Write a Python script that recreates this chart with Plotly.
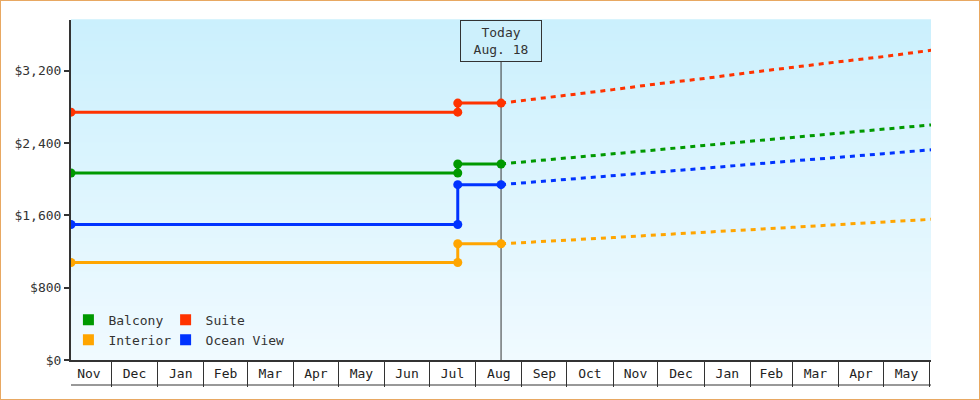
# %% Cabin price history and forecast

import plotly.graph_objects as go


# %% Data

cabins = ["Balcony", "Suite", "Interior", "Ocean View"]
colors = {
    "Balcony": "#009900",
    "Suite": "#ff3300",
    "Interior": "#ffa500",
    "Ocean View": "#0033ff",
}

# price history: start, last day of old price, price change, today
history_dates = ["2019-11-04", "2020-07-20", "2020-07-20", "2020-08-18"]
history_prices = {
    "Balcony": [2068, 2068, 2168, 2168],
    "Suite": [2741, 2741, 2841, 2841],
    "Interior": [1078, 1078, 1285, 1285],
    "Ocean View": [1498, 1498, 1939, 1939],
}

# forecast from today to the end of the range
forecast_dates = [
    "2020-08-18", "2020-09-01", "2020-10-01", "2020-11-01", "2020-12-01",
    "2021-01-01", "2021-02-01", "2021-03-01", "2021-04-01", "2021-05-01",
    "2021-06-02",
]
forecast_prices = {
    "Balcony": [2168, 2190, 2233, 2282, 2325, 2373, 2418, 2462, 2507, 2554, 2600],
    "Suite": [2841, 2868, 2931, 2990, 3055, 3113, 3180, 3232, 3298, 3355, 3425],
    "Interior": [1285, 1297, 1327, 1354, 1384, 1411, 1443, 1467, 1498, 1524, 1556],
    "Ocean View": [1939, 1957, 1999, 2038, 2081, 2120, 2164, 2199, 2243, 2281, 2325],
}

today = "2020-08-18"
today_label = "Today<br>Aug. 18"
x_range = ["2019-11-04", "2021-06-01 22:00"]
y_range = [0, 3760]


# %% Figure

font_family = "DejaVu Sans Mono"
ink = "#333333"
width, height = 980, 400
margin = {"l": 71, "r": 49, "t": 20, "b": 40}
plot_w = width - margin["l"] - margin["r"]
plot_h = height - margin["t"] - margin["b"]

fig = go.Figure()

# soft vertical gradient behind the plot
bands = 50
top_rgb = (203, 240, 253)
bottom_rgb = (240, 250, 255)
for i in range(bands):
    f = i / (bands - 1)
    r = round(bottom_rgb[0] + (top_rgb[0] - bottom_rgb[0]) * f)
    g = round(bottom_rgb[1] + (top_rgb[1] - bottom_rgb[1]) * f)
    b = round(bottom_rgb[2] + (top_rgb[2] - bottom_rgb[2]) * f)
    fig.add_shape(
        type="rect", xref="x domain", yref="y domain",
        x0=0, x1=1, y0=i / bands, y1=(i + 1) / bands + 0.002,
        fillcolor=f"rgb({r},{g},{b})", line_width=0, layer="below",
    )

# today marker line
fig.add_shape(
    type="line", xref="x", yref="y domain",
    x0=today, x1=today, y0=0, y1=1,
    line={"color": ink, "width": 1}, layer="below",
)

# bottom edge of month boxes
fig.add_shape(
    type="line", xref="x domain", yref="y domain",
    x0=0, x1=1, y0=-25 / plot_h, y1=-25 / plot_h,
    line={"color": ink, "width": 1},
)

# outer frame
fig.add_shape(
    type="rect", xref="paper", yref="paper",
    x0=-margin["l"] / plot_w, x1=(width - margin["l"]) / plot_w,
    y0=-margin["b"] / plot_h, y1=(height - margin["b"]) / plot_h,
    line={"color": "#e8a862", "width": 2},
)

for cabin in ["Interior", "Ocean View", "Balcony", "Suite"]:
    fig.add_trace(go.Scatter(
        x=forecast_dates, y=forecast_prices[cabin], mode="lines",
        line={"color": colors[cabin], "width": 3, "dash": "5px,5px"},
        showlegend=False, hoverinfo="skip",
    ))
    fig.add_trace(go.Scatter(
        x=history_dates, y=history_prices[cabin], mode="lines+markers",
        line={"color": colors[cabin], "width": 3},
        marker={"size": 9, "color": colors[cabin]},
        showlegend=False, name=cabin,
    ))

# square legend entries, two columns
for cabin in cabins:
    fig.add_trace(go.Scatter(
        x=[None], y=[None], mode="markers", name=cabin,
        marker={"symbol": "square", "size": 11, "color": colors[cabin]},
        legend="legend" if cabin in ("Balcony", "Interior") else "legend2",
    ))

fig.add_annotation(
    x=today, xref="x", y=1, yref="paper", yanchor="top",
    text=today_label, showarrow=False, width=74, height=34,
    font={"family": font_family, "size": 13, "color": ink},
    bgcolor="rgb(205,240,252)", bordercolor=ink, borderwidth=1, borderpad=3,
)

legend_style = {
    "font": {"family": font_family, "size": 13, "color": ink},
    "bgcolor": "rgba(0,0,0,0)", "yanchor": "top", "y": 0.162,
    "itemwidth": 30, "tracegroupgap": 0,
}

fig.update_layout(
    width=width, height=height, margin=margin,
    paper_bgcolor="white", plot_bgcolor="white",
    font={"family": font_family, "size": 13, "color": ink},
    legend={**legend_style, "x": -0.003},
    legend2={**legend_style, "x": 0.11},
    xaxis={
        "type": "date", "range": x_range,
        "dtick": "M1", "tick0": "2019-11-01",
        "tickformat": "%b", "ticklabelmode": "period",
        "ticks": "outside", "ticklen": 25, "tickwidth": 1, "tickcolor": ink,
        "ticklabelstandoff": -25,
        "showgrid": False, "zeroline": False,
        "showline": True, "linecolor": ink, "linewidth": 2,
        "tickfont": {"family": font_family, "size": 13, "color": "#222"},
    },
    yaxis={
        "range": y_range, "dtick": 800, "tick0": 0,
        "tickprefix": "$", "tickformat": ",",
        "ticks": "outside", "ticklen": 5, "tickwidth": 2, "tickcolor": ink,
        "showline": True, "linecolor": ink, "linewidth": 2,
        "showgrid": False, "zeroline": False,
        "tickfont": {"family": font_family, "size": 13, "color": ink},
    },
)

fig.write_html(
    "out.html",
    config={"displayModeBar": False},
    post_script="document.body.style.margin='0';document.body.style.overflow='hidden';",
)
